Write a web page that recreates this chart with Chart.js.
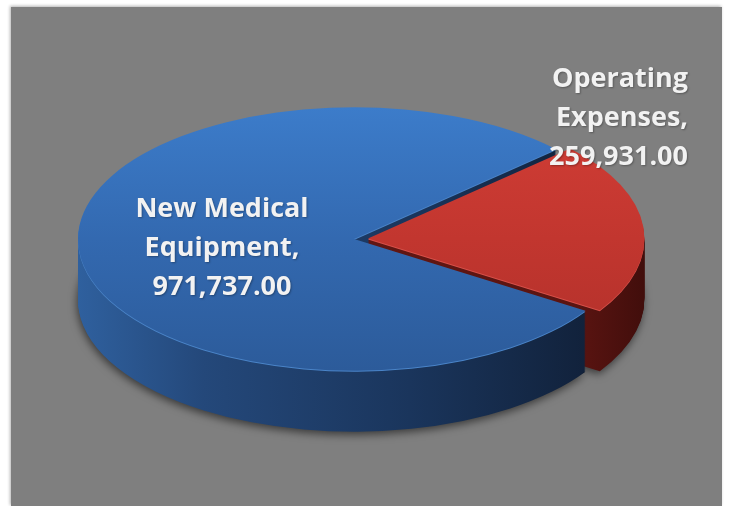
<!DOCTYPE html>
<html><head><meta charset="utf-8">
<script src="https://cdn.jsdelivr.net/npm/chart.js@4/dist/chart.umd.min.js"></script>
<style>
html,body{margin:0;padding:0;background:#fff;width:730px;height:506px;overflow:hidden}
#panel{position:absolute;left:11px;top:7px;width:711px;height:499px;background:#7f7f7f;box-shadow:-1px -1px 3px rgba(0,0,0,0.3)}
#wrap{position:absolute;left:0;top:0;width:730px;height:506px}
</style></head><body>
<div id="panel"></div>
<div id="wrap"><canvas id="c" width="730" height="506"></canvas></div>
<script>
const categories = ['New Medical Equipment', 'Operating Expenses'];
const values = [971737.00, 259931.00];
const explode = [0, 14];

const K = 0.477;      // vertical squash (tilt)
const DEPTH = 61;     // thickness in px
const RADIUS = 276;
const CX = 354, CY = 239;

function fmt(v){ return v.toLocaleString('en-US',{minimumFractionDigits:2, maximumFractionDigits:2}); }

function topGradient(c){
  const chart = c.chart, area = chart.chartArea;
  const i = c.dataIndex;
  if (!area) return i === 0 ? '#3369b0' : '#c0352e';
  const cy = (area.top + area.bottom) / 2;
  const g = chart.ctx.createLinearGradient(0, cy - RADIUS, 0, cy + RADIUS);
  if (i === 0){ g.addColorStop(0,'#3c7cca'); g.addColorStop(0.5,'#3369b0'); g.addColorStop(1,'#2c5b9a'); }
  else { g.addColorStop(0,'#d23e36'); g.addColorStop(0.5,'#c2362f'); g.addColorStop(1,'#b0302a'); }
  return g;
}

function sideGradient(ctx, i){
  const g = ctx.createLinearGradient(CX - RADIUS, 0, CX + RADIUS + 20, 0);
  if (i === 0){
    g.addColorStop(0,'#2f609e'); g.addColorStop(0.22,'#24487a');
    g.addColorStop(0.58,'#1a355c'); g.addColorStop(0.9,'#11213a'); g.addColorStop(1,'#10203a');
  } else {
    g.addColorStop(0,'#6a1a15'); g.addColorStop(0.85,'#5a1411'); g.addColorStop(1,'#3a0c0a');
  }
  return g;
}

function drawWith(arc, ctx, extra){
  const tmp = Object.create(arc);
  tmp.options = Object.assign({}, arc.options, extra);
  arc.draw.call(tmp, ctx);
}

const pie3d = {
  id: 'pie3d',
  beforeDatasetsDraw(chart){
    const ctx = chart.ctx;
    const meta = chart.getDatasetMeta(0);
    const cx = meta.data[0].x, cy = meta.data[0].y;
    ctx.save();
    ctx.translate(cx, cy); ctx.scale(1, K); ctx.translate(-cx, -cy);
    const sides = meta.data.map((a, i) => sideGradient(ctx, i));
    const rims = ['#4a84c8', '#d8514a'];
    for (let d = DEPTH; d >= 1; d--){
      ctx.save();
      ctx.translate(0, d / K);
      if (d === DEPTH){
        ctx.shadowColor = 'rgba(0,0,0,0.55)';
        ctx.shadowBlur = 9; ctx.shadowOffsetX = -1; ctx.shadowOffsetY = 3;
      }
      meta.data.forEach((arc, i) => {
        drawWith(arc, ctx, {backgroundColor: d === 1 ? rims[i] : sides[i], borderWidth: 0});
      });
      ctx.restore();
    }
  },
  afterDatasetsDraw(chart){ chart.ctx.restore(); }
};

function wrap(ctx, text, maxW){
  const words = text.split(' '); const lines = []; let cur = '';
  words.forEach(w => {
    const t = cur ? cur + ' ' + w : w;
    if (ctx.measureText(t).width > maxW && cur){ lines.push(cur); cur = w; } else cur = t;
  });
  if (cur) lines.push(cur);
  return lines;
}

const sliceLabels = {
  id: 'sliceLabels',
  afterDraw(chart, args, opts){
    const ctx = chart.ctx;
    ctx.save();
    ctx.font = '700 27px "Open Sans", "DejaVu Sans", sans-serif';
    ctx.fillStyle = '#f2f2f2';
    ctx.textBaseline = 'alphabetic';
    ctx.shadowColor = 'rgba(0,0,0,0.3)'; ctx.shadowBlur = 2; ctx.shadowOffsetX = 1; ctx.shadowOffsetY = 1;
    opts.anchors.forEach((a, i) => {
      const lines = wrap(ctx, categories[i] + ',', 190).concat([fmt(values[i])]);
      ctx.textAlign = a.align;
      lines.forEach((ln, j) => ctx.fillText(ln, a.x, a.y + j * opts.lineHeight));
    });
    ctx.restore();
  }
};

new Chart(document.getElementById('c'), {
  type: 'pie',
  data: {
    labels: categories,
    datasets: [{
      data: values,
      backgroundColor: topGradient,
      borderWidth: 0,
      offset: explode.map(v => v * 4),
      clip: false
    }]
  },
  options: {
    responsive: false,
    animation: false,
    events: [],
    rotation: 123,
    radius: RADIUS,
    layout: { padding: { left: 0, right: 730 - 2 * CX, top: 0, bottom: 506 - 2 * CY } },
    plugins: {
      legend: { display: false },
      tooltip: { enabled: false },
      sliceLabels: {
        lineHeight: 39,
        anchors: [ {x: 222, y: 217, align: 'center'}, {x: 688, y: 87, align: 'right'} ]
      }
    }
  },
  plugins: [pie3d, sliceLabels]
});
</script>
</body></html>
